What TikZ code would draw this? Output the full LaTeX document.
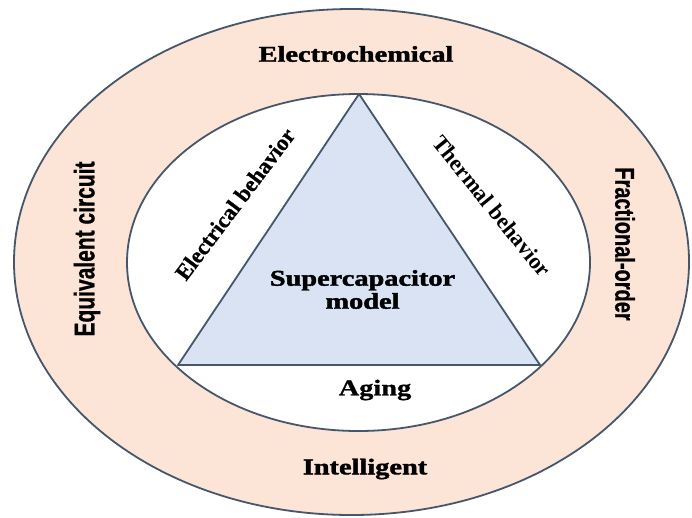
\documentclass[tikz,border=0pt]{standalone}
\usepackage{fontspec}
\setmainfont{Liberation Serif}
\setsansfont{Liberation Sans}
\newfontfamily\heavyserif[FakeBold=1.6]{Liberation Serif Bold}
\newfontfamily\midserif[FakeBold=0.8]{Liberation Serif Bold}
\newfontfamily\heavysans[FakeBold=1.0]{Liberation Sans Bold}
\definecolor{peach}{HTML}{FCE4D6}
\definecolor{paleblue}{HTML}{DAE3F3}
\definecolor{edge}{HTML}{46566B}
\newcommand\hstretch[1]{\scalebox{1.26}[1]{#1}}
\newcommand\vstretch[1]{\scalebox{1.35}[1]{#1}}
\tikzset{
  ring/.style={draw=edge, line width=1.8pt},
  lbl/.style={inner sep=0pt, font=\fontsize{22.5}{26}\selectfont\heavyserif, align=center},
}
\begin{document}
\begin{tikzpicture}[x=1pt,y=-1pt]
\useasboundingbox (0,0) rectangle (692,517);
\fill[white] (0,0) rectangle (692,517);
% outer and inner ellipses
\filldraw[ring, fill=peach] (351.5,262) ellipse [x radius=337.5, y radius=253];
\filldraw[ring, fill=white] (358.5,262.5) ellipse [x radius=231.5, y radius=168.5];
% triangle
\coordinate (apex) at (359,94);
\coordinate (bl) at (178,365);
\coordinate (br) at (540,365);
\filldraw[ring, fill=paleblue, line join=round] (apex) -- (bl) -- (br) -- cycle;
% texts
\node[lbl] (ec) at (356,54) {\hstretch{Electrochemical}};
\node[lbl] (int) at (365,469) {\hstretch{Intelligent}};
\node[lbl] (sm) at (362.5,289.5) {\hstretch{Supercapacitor}\\[-3pt]\hstretch{model}};
\node[lbl, font=\fontsize{22.5}{26}\selectfont\midserif] (ag) at (375,390) {\hstretch{Aging}};
\node[lbl, font=\fontsize{21}{25}\selectfont\heavysans] (eq) at (87,249) {\vstretch{\rotatebox{90}{Equivalent circuit}}};
\node[lbl, font=\fontsize{20}{24}\selectfont\heavysans] (fo) at (625,244) {\vstretch{\rotatebox{-90}{Fractional-order}}};
\node[lbl, font=\fontsize{22.5}{26}\selectfont\midserif] (el) at (235,204) {\rotatebox{53}{Electrical behavior}};
\node[lbl, font=\fontsize{22.5}{26}\selectfont\bfseries] (th) at (492,206) {\rotatebox{-51}{Thermal behavior}};
\end{tikzpicture}
\end{document}
